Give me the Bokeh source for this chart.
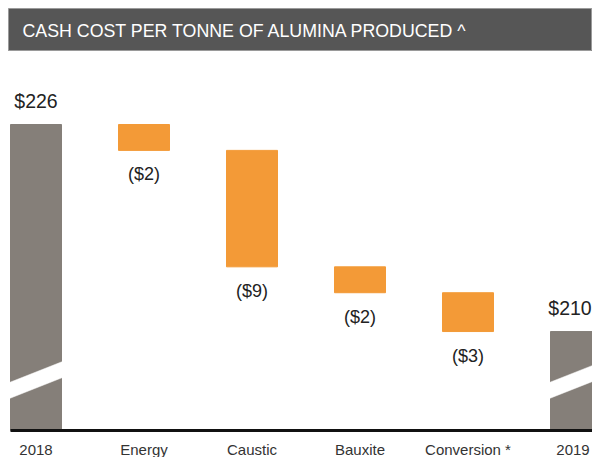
from bokeh.plotting import figure
from bokeh.models import Range1d, Label, ColumnDataSource
from bokeh.layouts import column
from bokeh.core.properties import value
from bokeh.embed import file_html
from bokeh.resources import INLINE

# ---- data ----
categories = ["2018", "Energy", "Caustic", "Bauxite", "Conversion *", "2019"]
start_value = 226
changes = [-2, -9, -2, -3]
end_value = 210
value_labels = ["$226", "($2)", "($9)", "($2)", "($3)", "$210"]
title_text = "CASH COST PER TONNE OF ALUMINA PRODUCED ^"

# ---- styles ----
FONT = "Liberation Sans"
GRAY_BAR = "#857f79"
ORANGE = "#f39a37"
TITLE_BG = "#565656"
W, TITLE_H, MAIN_H = 592, 51, 406
LEFT_PAD = 8
FRAME_W = W - LEFT_PAD
PX_PER_UNIT = 12.94
SLOT_PX = 108.0
BAR_W = 51 / SLOT_PX

# y range (broken axis starting above zero)
y_top = start_value + 73 / PX_PER_UNIT
y_bottom = y_top - MAIN_H / PX_PER_UNIT
floor = y_top - 379 / PX_PER_UNIT
x_start = -(35.5 - LEFT_PAD) / SLOT_PX
x_end = x_start + FRAME_W / SLOT_PX

# waterfall geometry from data
idx = list(range(len(categories)))
tops, bottoms, colors = [start_value], [floor], [GRAY_BAR]
level = start_value
for c in changes:
    new = level + c
    tops.append(max(level, new))
    bottoms.append(min(level, new))
    colors.append(ORANGE)
    level = new
tops.append(end_value)
bottoms.append(floor)
colors.append(GRAY_BAR)

# ---- title bar ----
tf = figure(width=W, height=TITLE_H, toolbar_location=None, output_backend="svg",
            min_border=0, min_border_left=LEFT_PAD, min_border_top=8,
            x_range=Range1d(0, 1), y_range=Range1d(0, 1))
tf.axis.visible = False
tf.grid.visible = False
tf.background_fill_color = TITLE_BG
tf.border_fill_color = "white"
tf.outline_line_color = "#9a9a9a"
tf.add_layout(Label(x=14, y=20.5, x_units="screen", y_units="screen", text=title_text,
                    text_color="white", text_font=FONT, text_font_size="17.8px",
                    text_baseline="alphabetic"))

# ---- main chart ----
p = figure(width=W, height=MAIN_H, toolbar_location=None, output_backend="svg",
           min_border=0, min_border_left=LEFT_PAD,
           x_range=Range1d(x_start, x_end), y_range=Range1d(y_bottom, y_top))
p.axis.visible = False
p.grid.visible = False
p.outline_line_color = None
p.background_fill_color = "white"
p.border_fill_color = "white"

src = ColumnDataSource(dict(x=idx, top=tops, bottom=bottoms, color=colors))
p.vbar(x="x", top="top", bottom="bottom", width=BAR_W, color="color", source=src)

# axis-break bands on the total bars
band_h = 16 / PX_PER_UNIT
rise = 21 / PX_PER_UNIT
break_mid = start_value - (379.5 - 124) / PX_PER_UNIT
xs, ys = [], []
for i in (idx[0], idx[-1]):
    l, r = i - BAR_W / 2 - 0.01, i + BAR_W / 2 + 0.01
    xs.append([l, r, r, l])
    ys.append([break_mid - rise / 2 + band_h / 2, break_mid + rise / 2 + band_h / 2,
               break_mid + rise / 2 - band_h / 2, break_mid - rise / 2 - band_h / 2])
p.patches(xs=xs, ys=ys, color="white", line_color="white", line_width=0.5)

# baseline
p.segment(x0=[idx[0] - BAR_W / 2], x1=[idx[-1] + 1], y0=[floor], y1=[floor],
          line_color="#111111", line_width=3)

# total labels (above)
tot_i = [idx[0], idx[-1]]
tot_src = ColumnDataSource(dict(x=tot_i, y=[tops[i] for i in tot_i],
                                text=[value_labels[i] for i in tot_i], dx=[0, -6]))
p.text(x="x", y="y", text="text", x_offset="dx", source=tot_src,
       text_align="center", text_baseline="alphabetic", y_offset=-24,
       text_font=value(FONT), text_font_size="19.5px", text_color="#222222")
# change labels (below)
ch_i = idx[1:-1]
p.text(x=ch_i, y=[bottoms[i] for i in ch_i], text=[value_labels[i] for i in ch_i],
       text_align="center", text_baseline="alphabetic", y_offset=24,
       text_font=value(FONT), text_font_size="18px", text_color="#222222")
# category labels
cat_src = ColumnDataSource(dict(x=idx, y=[floor] * len(idx), text=categories,
                                dx=[0, 0, 0, 0, 0, -3]))
p.text(x="x", y="y", text="text", x_offset="dx", source=cat_src,
       text_align="center", text_baseline="alphabetic", y_offset=19,
       text_font=value(FONT), text_font_size="15px", text_color="#333333")

layout = column(tf, p, spacing=0)
open("out.html", "w").write(file_html(layout, INLINE))
